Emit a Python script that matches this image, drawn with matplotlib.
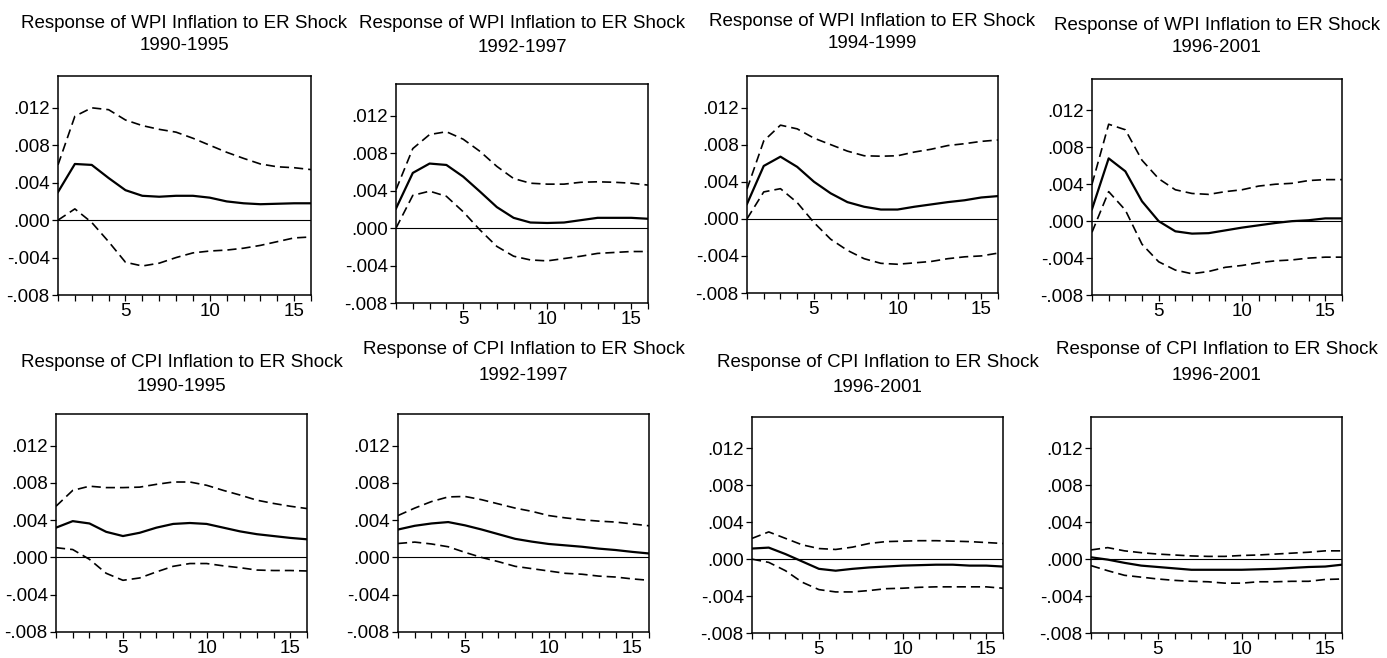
import matplotlib
matplotlib.use("Agg")
import matplotlib.pyplot as plt
from matplotlib.ticker import FixedLocator, FuncFormatter

plt.rcParams['font.family'] = ['Liberation Sans', 'DejaVu Sans']

W, H = 1387, 658
horizon = list(range(1, 17))

# ---- WPI responses (top row) ----
wpi_9095 = [3.0, 6.0, 5.9, 4.5, 3.2, 2.6, 2.5, 2.6, 2.6, 2.4, 2.0, 1.8, 1.7, 1.75, 1.8, 1.8]
wpi_9095_hi = [5.9, 11.1, 12.0, 11.8, 10.7, 10.1, 9.7, 9.4, 8.75, 8.0, 7.25, 6.6, 6.0, 5.7, 5.6, 5.4]
wpi_9095_lo = [0.0, 1.2, -0.25, -2.3, -4.5, -4.9, -4.6, -4.0, -3.5, -3.3, -3.2, -3.0, -2.7, -2.3, -1.9, -1.8]

wpi_9297 = [2.1, 5.9, 6.9, 6.75, 5.5, 3.9, 2.25, 1.1, 0.6, 0.55, 0.6, 0.85, 1.1, 1.1, 1.1, 1.0]
wpi_9297_hi = [4.1, 8.5, 10.0, 10.3, 9.5, 8.2, 6.6, 5.3, 4.8, 4.7, 4.7, 4.9, 4.95, 4.9, 4.8, 4.6]
wpi_9297_lo = [0.0, 3.5, 3.95, 3.4, 1.75, -0.2, -1.95, -3.0, -3.4, -3.5, -3.25, -3.0, -2.7, -2.6, -2.5, -2.5]

wpi_9499 = [1.6, 5.7, 6.7, 5.6, 4.0, 2.75, 1.8, 1.3, 1.0, 1.0, 1.3, 1.55, 1.8, 2.0, 2.3, 2.45]
wpi_9499_hi = [3.2, 8.4, 10.1, 9.7, 8.7, 8.0, 7.3, 6.8, 6.75, 6.8, 7.2, 7.5, 7.9, 8.1, 8.35, 8.5]
wpi_9499_lo = [0.0, 2.9, 3.25, 1.75, -0.4, -2.2, -3.4, -4.3, -4.8, -4.9, -4.75, -4.6, -4.3, -4.1, -4.0, -3.7]

wpi_9601 = [1.3, 6.8, 5.4, 2.15, 0.0, -1.1, -1.35, -1.3, -1.0, -0.7, -0.45, -0.2, 0.0, 0.1, 0.3, 0.3]
wpi_9601_hi = [4.0, 10.5, 9.9, 6.6, 4.6, 3.4, 3.0, 2.9, 3.2, 3.4, 3.8, 4.0, 4.1, 4.4, 4.5, 4.5]
wpi_9601_lo = [-1.2, 3.2, 1.2, -2.5, -4.4, -5.3, -5.7, -5.45, -5.0, -4.8, -4.5, -4.3, -4.2, -4.0, -3.9, -3.9]

# ---- CPI responses (bottom row) ----
cpi_9095 = [3.2, 3.9, 3.65, 2.75, 2.3, 2.65, 3.2, 3.6, 3.7, 3.6, 3.2, 2.8, 2.5, 2.3, 2.1, 1.95]
cpi_9095_hi = [5.5, 7.2, 7.65, 7.5, 7.5, 7.55, 7.85, 8.1, 8.1, 7.75, 7.2, 6.7, 6.15, 5.8, 5.5, 5.25]
cpi_9095_lo = [1.05, 0.85, -0.2, -1.7, -2.45, -2.2, -1.55, -0.95, -0.65, -0.65, -0.9, -1.1, -1.35, -1.4, -1.4, -1.45]

cpi_9297 = [3.0, 3.4, 3.65, 3.8, 3.45, 3.0, 2.5, 2.0, 1.7, 1.45, 1.3, 1.15, 0.95, 0.8, 0.6, 0.43]
cpi_9297_hi = [4.5, 5.3, 6.0, 6.5, 6.55, 6.2, 5.75, 5.3, 4.95, 4.5, 4.25, 4.05, 3.9, 3.8, 3.6, 3.4]
cpi_9297_lo = [1.5, 1.65, 1.45, 1.15, 0.55, 0.0, -0.45, -0.95, -1.2, -1.45, -1.7, -1.8, -2.0, -2.1, -2.3, -2.45]

cpi_9601a = [1.15, 1.25, 0.55, -0.25, -1.05, -1.25, -1.05, -0.9, -0.8, -0.7, -0.65, -0.6, -0.6, -0.7, -0.7, -0.8]
cpi_9601a_hi = [2.25, 2.95, 2.25, 1.55, 1.15, 1.05, 1.3, 1.7, 1.9, 1.95, 2.0, 2.0, 1.95, 1.9, 1.8, 1.7]
cpi_9601a_lo = [0.0, -0.35, -1.25, -2.5, -3.3, -3.55, -3.55, -3.4, -3.2, -3.15, -3.05, -3.0, -3.0, -3.0, -3.0, -3.15]

cpi_9601b = [0.2, -0.05, -0.4, -0.7, -0.85, -1.0, -1.15, -1.15, -1.15, -1.15, -1.1, -1.05, -0.95, -0.85, -0.8, -0.6]
cpi_9601b_hi = [1.0, 1.25, 0.9, 0.7, 0.55, 0.45, 0.35, 0.3, 0.3, 0.4, 0.45, 0.55, 0.65, 0.75, 0.9, 0.9]
cpi_9601b_lo = [-0.7, -1.25, -1.75, -1.95, -2.15, -2.3, -2.4, -2.45, -2.6, -2.6, -2.45, -2.45, -2.4, -2.4, -2.2, -2.15]

wpi_title = "Response of WPI Inflation to ER Shock"
cpi_title = "Response of CPI Inflation to ER Shock"

# (title, period, irf, hi, lo) ; values above are in thousandths
panels = [
    (wpi_title, "1990-1995", wpi_9095, wpi_9095_hi, wpi_9095_lo),
    (wpi_title, "1992-1997", wpi_9297, wpi_9297_hi, wpi_9297_lo),
    (wpi_title, "1994-1999", wpi_9499, wpi_9499_hi, wpi_9499_lo),
    (wpi_title, "1996-2001", wpi_9601, wpi_9601_hi, wpi_9601_lo),
    (cpi_title, "1990-1995", cpi_9095, cpi_9095_hi, cpi_9095_lo),
    (cpi_title, "1992-1997", cpi_9297, cpi_9297_hi, cpi_9297_lo),
    (cpi_title, "1996-2001", cpi_9601a, cpi_9601a_hi, cpi_9601a_lo),
    (cpi_title, "1996-2001", cpi_9601b, cpi_9601b_hi, cpi_9601b_lo),
]

# axes boxes in pixels: left, right, top, bottom ; title line centres
boxes = [
    (58, 311, 76, 295, 23, 45),
    (396, 648, 84, 303, 24, 47),
    (747, 998, 76, 293, 21, 43),
    (1092, 1342, 79, 295, 26, 47),
    (56, 307, 414, 632, 362, 386),
    (398, 649, 414, 632, 350, 375),
    (752, 1003, 417, 633, 362, 387),
    (1091, 1342, 417, 633, 350, 376),
]


def fmt(v, pos):
    s = f"{v:.3f}"
    return s.replace("0.", ".", 1)


fig = plt.figure(figsize=(W / 100, H / 100), dpi=100)

for (title, period, irf, hi, lo), (l, r, t, b, ty1, ty2) in zip(panels, boxes):
    ax = fig.add_axes([l / W, 1 - b / H, (r - l) / W, (b - t) / H])
    ax.axhline(0, color="black", lw=0.8)
    ax.plot(horizon, [v / 1000 for v in irf], color="black", lw=1.6)
    ax.plot(horizon, [v / 1000 for v in hi], color="black", lw=1.2, dashes=(5.5, 3))
    ax.plot(horizon, [v / 1000 for v in lo], color="black", lw=1.2, dashes=(5.5, 3))

    ax.set_xlim(1, 16)
    ax.set_ylim(-0.008, 0.0154)
    ax.xaxis.set_major_locator(FixedLocator([5, 10, 15]))
    ax.xaxis.set_minor_locator(FixedLocator(horizon))
    ax.yaxis.set_major_locator(FixedLocator([-0.008, -0.004, 0.0, 0.004, 0.008, 0.012]))
    ax.yaxis.set_major_formatter(FuncFormatter(fmt))
    ax.tick_params(which="both", direction="out", length=4, width=0.9,
                   labelsize=13.5, pad=2, top=False, right=False)
    for sp in ax.spines.values():
        sp.set_linewidth(1.1)

    cx = (l + r) / 2 / W
    fig.text(cx, 1 - ty1 / H, title, ha="center", va="center", fontsize=13.5)
    fig.text(cx, 1 - ty2 / H, period, ha="center", va="center", fontsize=13.5)

fig.savefig("out.png", dpi=100)
